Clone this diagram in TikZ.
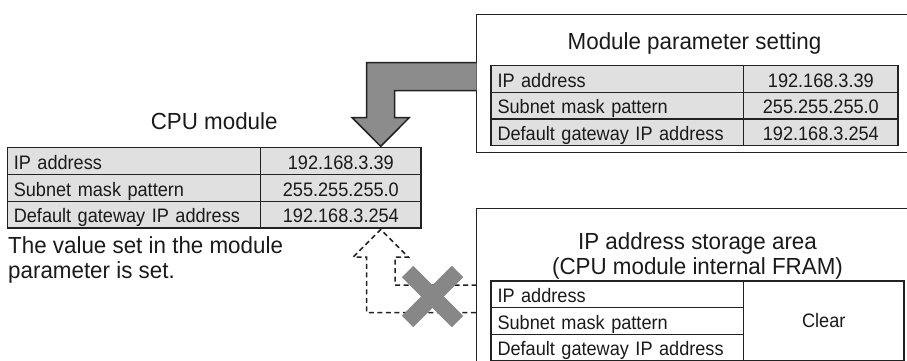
\documentclass[tikz,border=0pt]{standalone}
\usepackage{fontspec}
\setmainfont{Liberation Sans}
\newfontfamily\tabfont{Liberation Sans}[FakeStretch=0.93]
\newfontfamily\titlefont{Liberation Sans}[FakeStretch=0.96]
\definecolor{linec}{HTML}{222222}
\definecolor{cellfill}{HTML}{E0E0E0}
\definecolor{txt}{HTML}{1A1A1A}
\definecolor{arrowgray}{HTML}{8C8C8C}
\definecolor{xgray}{HTML}{878787}
\tikzset{
  cellbase/.style={draw=linec, line width=1.5pt, inner sep=0pt, outer sep=0pt,
    anchor=north west, text=txt, font=\tabfont\fontsize{19.5}{21}\selectfont,
    text height=16.3pt, text depth=0pt},
  labcell/.style={cellbase, fill=cellfill, inner xsep=6.5pt, align=left},
  valcell/.style={cellbase, fill=cellfill, align=center},
  plainlab/.style={cellbase, fill=white, inner xsep=6.5pt, align=left},
  frame/.style={draw=linec, line width=1.5pt},
  title/.style={text=txt, font=\titlefont\fontsize{23.3}{25}\selectfont, inner sep=0pt, anchor=base},
  bigarrow/.style={draw=linec, line width=1.5pt, fill=arrowgray, line join=miter},
  dasharrow/.style={draw=linec, line width=1.5pt, dash pattern=on 5pt off 3.5pt},
  cross/.style={draw=xgray, line width=16pt, line cap=butt}
}
\begin{document}
\begin{tikzpicture}[x=1pt,y=-1pt]
\useasboundingbox (0,0) rectangle (907,361);

% frames
\draw[frame] (476.7,14.7) rectangle (920,152.7);
\draw[frame] (476.7,208.3) rectangle (920,375);

% titles
\node[title] (tmod) at (694.5,50) {Module parameter setting};
\node[title] (tcpu) at (214.2,129.5) {CPU module};
\node[title] (tsto1) at (697.5,249) {IP address storage area};
\node[title] (tsto2) at (697.5,274) {(CPU module internal FRAM)};
\node[title, anchor=base west, align=left] (note1) at (8,253) {The value set in the module};
\node[title, anchor=base west, align=left] (note2) at (8,278) {parameter is set.};

% CPU module table
\node[labcell, text width=240.4pt, minimum height=26.9pt] (c1) at (7.3,147.5) {IP address};
\node[labcell, text width=240.4pt, minimum height=26.9pt] (c2) at (7.3,174.4) {Subnet mask pattern};
\node[labcell, text width=240.4pt, minimum height=26.9pt] (c3) at (7.3,201.3) {Default gateway IP address};
\node[valcell, minimum width=160.3pt, minimum height=26.9pt] (cv1) at (260.7,147.5) {192.168.3.39};
\node[valcell, minimum width=160.3pt, minimum height=26.9pt] (cv2) at (260.7,174.4) {255.255.255.0};
\node[valcell, minimum width=160.3pt, minimum height=26.9pt] (cv3) at (260.7,201.3) {192.168.3.254};

% Module parameter table
\node[labcell, text width=239.7pt, minimum height=26.6pt] (m1) at (491,65.7) {IP address};
\node[labcell, text width=239.7pt, minimum height=26.6pt] (m2) at (491,92.3) {Subnet mask pattern};
\node[labcell, text width=239.7pt, minimum height=26.6pt] (m3) at (491,118.9) {Default gateway IP address};
\node[valcell, minimum width=154.3pt, minimum height=26.6pt] (mv1) at (743.7,65.7) {192.168.3.39};
\node[valcell, minimum width=154.3pt, minimum height=26.6pt] (mv2) at (743.7,92.3) {255.255.255.0};
\node[valcell, minimum width=154.3pt, minimum height=26.6pt] (mv3) at (743.7,118.9) {192.168.3.254};

% storage table
\node[plainlab, text width=239.5pt, minimum height=26.7pt] (s1) at (491,281) {IP address};
\node[plainlab, text width=239.5pt, minimum height=26.7pt] (s2) at (491,307.7) {Subnet mask pattern};
\node[plainlab, text width=239.5pt, minimum height=26.7pt] (s3) at (491,334.4) {Default gateway IP address};
\node[cellbase, fill=white, minimum width=160.5pt, minimum height=80.1pt, text height=12pt] (sv) at (743.5,281) {Clear};

% big gray arrow from module parameter frame to CPU module
\draw[bigarrow] (476.7,62.7) -- (366.7,62.7) -- (366.7,117.7) -- (352.2,117.7)
  -- (380.7,146.3) -- (409.2,117.7) -- (394.5,117.7) -- (394.5,90.7) -- (476.7,90.7);

% dashed arrow from storage area to CPU module
\draw[dasharrow] (476.7,285) -- (395,285) -- (395,257) -- (408.3,257) -- (380.8,229.5)
  -- (353.3,257) -- (366.7,257) -- (366.7,312.7) -- (476.7,312.7);

% cross
\draw[cross] (407.5,271.5) -- (457.5,321.5);
\draw[cross] (407.5,321.5) -- (457.5,271.5);
\end{tikzpicture}
\end{document}
